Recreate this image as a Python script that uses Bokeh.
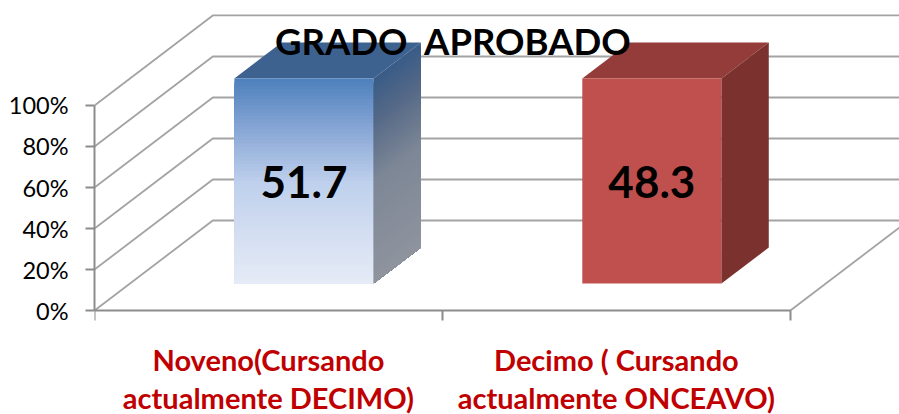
from bokeh.plotting import figure
from bokeh.models import Range1d, LinearAxis, FixedTicker, Label
from bokeh.core.properties import value
from bokeh.embed import file_html
from bokeh.resources import INLINE

FONT = "Lato"
chart_title = "GRADO  APROBADO"
categories = ["Noveno(Cursando\nactualmente DECIMO)", "Decimo ( Cursando\nactualmente ONCEAVO)"]
values = [51.7, 48.3]
stacked_share = [100, 100]
y_ticks = [0, 20, 40, 60, 80, 100]
y_labels = ["0%", "20%", "40%", "60%", "80%", "100%"]

DX, DY = 0.34, 43.9
Z0, Z1 = 0.3, 0.7
BAR_W = 0.4
N = 60

def px(x, z): return x + DX * z
def py(y, z): return y + DY * z

def lerp(stops, t):
    for (a, ca), (b, cb) in zip(stops, stops[1:]):
        if t <= b:
            f = (t - a) / (b - a)
            c = [round(u + (v - u) * f) for u, v in zip(ca, cb)]
            return "#%02x%02x%02x" % tuple(c)
    return "#%02x%02x%02x" % tuple(stops[-1][1])

blue_front = [(0, (230, 236, 247)), (.25, (211, 222, 241)), (.5, (190, 208, 236)), (.75, (138, 168, 214)), (1, (79, 129, 189))]
blue_side = [(0, (143, 148, 158)), (.5, (125, 135, 150)), (.8, (85, 105, 135)), (1, (58, 92, 135))]
blue_top = "#3d6290"
red_front, red_side, red_top = "#c0504d", "#7b322f", "#943c39"

p = figure(width=899, height=414, output_backend="svg", toolbar_location=None,
           x_range=Range1d(0, 2.3137), y_range=Range1d(-50.7, 151.2),
           x_axis_type=None, y_axis_type=None,
           min_border_left=94, min_border_right=0, min_border_top=0, min_border_bottom=0)
p.outline_line_color = None
p.background_fill_color = "white"

yax = LinearAxis(ticker=FixedTicker(ticks=y_ticks), bounds=(0, 100))
yax.major_label_overrides = {t: l for t, l in zip(y_ticks, y_labels)}
yax.major_label_text_font = FONT
yax.major_label_text_font_size = "23.5px"
yax.major_label_text_color = "#000000"
yax.major_label_standoff = 17
yax.major_tick_out, yax.major_tick_in = 9, 0
yax.minor_tick_line_color = None
yax.axis_line_color = yax.major_tick_line_color = "#8c8c8c"
yax.axis_line_width = yax.major_tick_line_width = 2
p.add_layout(yax, "left")

mid = [i + .5 for i in range(len(categories))]
xax = LinearAxis(ticker=FixedTicker(ticks=mid, minor_ticks=list(range(len(categories) + 1))),
                 bounds=(0, len(categories)), fixed_location=0)
xax.major_label_overrides = {m: c for m, c in zip(mid, categories)}
xax.major_label_text_font = FONT
xax.major_label_text_font_style = "bold"
xax.major_label_text_font_size = "29px"
xax.major_label_text_color = "#c00000"
xax.major_label_text_line_height = 1.1
xax.major_label_standoff = 21
xax.major_tick_out = xax.major_tick_in = 0
xax.minor_tick_out, xax.minor_tick_in = 10, 0
xax.axis_line_color = xax.minor_tick_line_color = "#8c8c8c"
xax.axis_line_width = xax.minor_tick_line_width = 2
p.add_layout(xax, "below")

X_END = len(categories)
GRID = "#a3a3a3"
for t in y_ticks:
    p.line([px(0, 0), px(0, 1), px(X_END + 1, 1)], [py(t, 0), py(t, 1), py(t, 1)], line_color=GRID, line_width=1.8)
p.line([px(X_END, 0), px(X_END, 1)], [py(0, 0), py(0, 1)], line_color=GRID, line_width=1.8)

for i, share in enumerate(stacked_share):
    x0 = mid[i] - BAR_W / 2
    x1 = mid[i] + BAR_W / 2
    xs0, xs1 = px(x0, Z0), px(x1, Z0)
    xb0, xb1 = px(x0, Z1), px(x1, Z1)
    p.patch([xs0, xs1, xb1, xb0], [py(share, Z0), py(share, Z0), py(share, Z1), py(share, Z1)],
            fill_color=blue_top if i == 0 else red_top, line_color=None)
    if i == 0:
        for k in range(N):
            t = share * (1 - k / N)
            p.quad(left=xs0, right=xs1, top=py(t, Z0), bottom=py(0, Z0),
                   fill_color=lerp(blue_front, t / share), line_color=None)
            p.patch([xs1, xb1, xb1, xs1], [py(0, Z0), py(0, Z1), py(t, Z1), py(t, Z0)],
                    fill_color=lerp(blue_side, t / share), line_color=None)
    else:
        p.quad(left=xs0, right=xs1, top=py(share, Z0), bottom=py(0, Z0), fill_color=red_front, line_color=None)
        p.patch([xs1, xb1, xb1, xs1], [py(0, Z0), py(0, Z1), py(share, Z1), py(share, Z0)],
                fill_color=red_side, line_color=None)
    p.text([px(mid[i], Z0)], [py(share / 2, Z0) - 0.5], text=[f"{values[i]}"],
           text_font=value(FONT), text_font_style="bold", text_font_size="44px",
           text_color="#000000", text_align="center", text_baseline="middle")

p.add_layout(Label(x=1.03, y=131.5, text=chart_title.replace("  ", " \u00a0"), text_font=FONT, text_font_style="bold",
                   text_font_size="36.5px", text_color="#000000", text_align="center", text_baseline="middle"))

open("out.html", "w").write(file_html(p, INLINE))
